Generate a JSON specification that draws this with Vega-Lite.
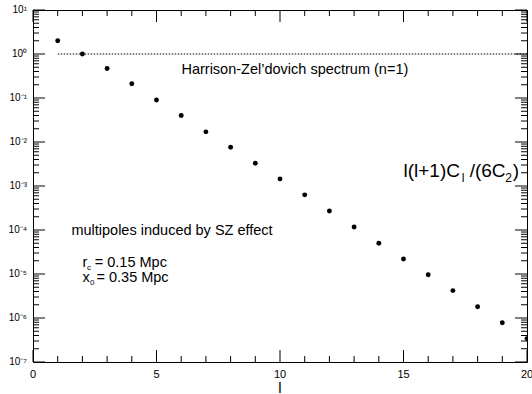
{
  "$schema": "https://vega.github.io/schema/vega-lite/v6.json",
  "width": 494,
  "height": 352,
  "autosize": {"type": "none"},
  "padding": {"left": 33, "top": 10, "right": 5, "bottom": 32},
  "background": "white",
  "config": {
    "view": {"stroke": "black", "strokeWidth": 1},
    "font": "Liberation Sans"
  },
  "datasets": {
    "spec": [
      {"l": 1, "v": 2.0}, {"l": 2, "v": 1.0}, {"l": 3, "v": 0.47}, {"l": 4, "v": 0.21},
      {"l": 5, "v": 0.09}, {"l": 6, "v": 0.040}, {"l": 7, "v": 0.017}, {"l": 8, "v": 0.0076},
      {"l": 9, "v": 0.0033}, {"l": 10, "v": 0.00145}, {"l": 11, "v": 0.00063}, {"l": 12, "v": 0.00027},
      {"l": 13, "v": 0.000117}, {"l": 14, "v": 0.00005}, {"l": 15, "v": 0.000022}, {"l": 16, "v": 0.0000096},
      {"l": 17, "v": 0.0000042}, {"l": 18, "v": 0.0000018}, {"l": 19, "v": 0.00000078}, {"l": 20, "v": 0.00000034}
    ],
    "hz": [{"l": 1, "l2": 20, "v": 1}],
    "xticks": [{"l": 0}, {"l": 1}, {"l": 2}, {"l": 3}, {"l": 4}, {"l": 5}, {"l": 6}, {"l": 7}, {"l": 8}, {"l": 9}, {"l": 10}, {"l": 11}, {"l": 12}, {"l": 13}, {"l": 14}, {"l": 15}, {"l": 16}, {"l": 17}, {"l": 18}, {"l": 19}, {"l": 20}],
    "yticks": [
      {"v": 1e-7}, {"v": 2e-7}, {"v": 3e-7}, {"v": 4e-7}, {"v": 5e-7}, {"v": 6e-7}, {"v": 7e-7}, {"v": 8e-7}, {"v": 9e-7},
      {"v": 1e-6}, {"v": 2e-6}, {"v": 3e-6}, {"v": 4e-6}, {"v": 5e-6}, {"v": 6e-6}, {"v": 7e-6}, {"v": 8e-6}, {"v": 9e-6},
      {"v": 1e-5}, {"v": 2e-5}, {"v": 3e-5}, {"v": 4e-5}, {"v": 5e-5}, {"v": 6e-5}, {"v": 7e-5}, {"v": 8e-5}, {"v": 9e-5},
      {"v": 1e-4}, {"v": 2e-4}, {"v": 3e-4}, {"v": 4e-4}, {"v": 5e-4}, {"v": 6e-4}, {"v": 7e-4}, {"v": 8e-4}, {"v": 9e-4},
      {"v": 1e-3}, {"v": 2e-3}, {"v": 3e-3}, {"v": 4e-3}, {"v": 5e-3}, {"v": 6e-3}, {"v": 7e-3}, {"v": 8e-3}, {"v": 9e-3},
      {"v": 0.01}, {"v": 0.02}, {"v": 0.03}, {"v": 0.04}, {"v": 0.05}, {"v": 0.06}, {"v": 0.07}, {"v": 0.08}, {"v": 0.09},
      {"v": 0.1}, {"v": 0.2}, {"v": 0.3}, {"v": 0.4}, {"v": 0.5}, {"v": 0.6}, {"v": 0.7}, {"v": 0.8}, {"v": 0.9},
      {"v": 1}, {"v": 2}, {"v": 3}, {"v": 4}, {"v": 5}, {"v": 6}, {"v": 7}, {"v": 8}, {"v": 9}, {"v": 10}
    ],
    "xlabels": [{"l": 0, "t": "0"}, {"l": 5, "t": "5"}, {"l": 10, "t": "10"}, {"l": 15, "t": "15"}, {"l": 20, "t": "20"}],
    "xtitle": [{"l": 10, "t": "l"}],
    "ylabels": [
      {"v": 1e-7, "t": "10⁻⁷"}, {"v": 1e-6, "t": "10⁻⁶"}, {"v": 1e-5, "t": "10⁻⁵"}, {"v": 1e-4, "t": "10⁻⁴"},
      {"v": 1e-3, "t": "10⁻³"}, {"v": 0.01, "t": "10⁻²"}, {"v": 0.1, "t": "10⁻¹"}, {"v": 1, "t": "10⁰"}, {"v": 10, "t": "10¹"}
    ],
    "notes": [
      {"l": 6.01, "v": 0.346, "t": "Harrison-Zel’dovich spectrum (n=1)", "kind": "main"},
      {"l": 1.555, "v": 7.7e-5, "t": "multipoles induced by SZ effect", "kind": "main"},
      {"l": 2.0, "v": 1.47e-5, "t": "r", "kind": "main"},
      {"l": 2.19, "v": 1.47e-5, "t": "c", "kind": "sub"},
      {"l": 2.5, "v": 1.47e-5, "t": "= 0.15 Mpc", "kind": "main"},
      {"l": 2.0, "v": 6.7e-6, "t": "x", "kind": "main"},
      {"l": 2.31, "v": 6.7e-6, "t": "0", "kind": "sub"},
      {"l": 2.57, "v": 6.7e-6, "t": "= 0.35 Mpc", "kind": "main"},
      {"l": 15.0, "v": 1.6e-3, "t": "l(l+1)C", "kind": "big"},
      {"l": 17.36, "v": 1.6e-3, "t": "l", "kind": "bigsub"},
      {"l": 17.68, "v": 1.6e-3, "t": "/(6C", "kind": "big"},
      {"l": 19.12, "v": 1.6e-3, "t": "2", "kind": "bigsub"},
      {"l": 19.42, "v": 1.6e-3, "t": ")", "kind": "big"}
    ]
  },
  "layer": [
    {
      "data": {"name": "spec"},
      "mark": {"type": "point", "filled": true, "color": "black", "opacity": 1, "size": 24, "clip": true},
      "encoding": {
        "x": {"field": "l", "type": "quantitative", "scale": {"domain": [0, 20], "nice": false, "zero": false}, "axis": null},
        "y": {"field": "v", "type": "quantitative", "scale": {"type": "log", "domain": [1e-7, 10], "nice": false}, "axis": null}
      }
    },
    {
      "data": {"name": "hz"},
      "mark": {"type": "rule", "color": "black", "strokeWidth": 1, "strokeDash": [1.5, 1.5]},
      "encoding": {
        "x": {"field": "l", "type": "quantitative", "axis": null},
        "x2": {"field": "l2"},
        "y": {"field": "v", "type": "quantitative", "axis": null}
      }
    },
    {
      "data": {"name": "xticks"},
      "transform": [{"filter": "datum.l % 5 == 0"}],
      "mark": {"type": "tick", "orient": "vertical", "color": "black", "thickness": 1, "size": 12, "yOffset": -6, "opacity": 1},
      "encoding": {
        "x": {"field": "l", "type": "quantitative", "axis": null},
        "y": {"datum": 1e-7, "type": "quantitative", "axis": null}
      }
    },
    {
      "data": {"name": "xticks"},
      "transform": [{"filter": "datum.l % 5 != 0"}],
      "mark": {"type": "tick", "orient": "vertical", "color": "black", "thickness": 1, "size": 6, "yOffset": -3, "opacity": 1},
      "encoding": {
        "x": {"field": "l", "type": "quantitative", "axis": null},
        "y": {"datum": 1e-7, "type": "quantitative", "axis": null}
      }
    },
    {
      "data": {"name": "xticks"},
      "transform": [{"filter": "datum.l % 5 == 0"}],
      "mark": {"type": "tick", "orient": "vertical", "color": "black", "thickness": 1, "size": 12, "yOffset": 6, "opacity": 1},
      "encoding": {
        "x": {"field": "l", "type": "quantitative", "axis": null},
        "y": {"datum": 10, "type": "quantitative", "axis": null}
      }
    },
    {
      "data": {"name": "xticks"},
      "transform": [{"filter": "datum.l % 5 != 0"}],
      "mark": {"type": "tick", "orient": "vertical", "color": "black", "thickness": 1, "size": 6, "yOffset": 3, "opacity": 1},
      "encoding": {
        "x": {"field": "l", "type": "quantitative", "axis": null},
        "y": {"datum": 10, "type": "quantitative", "axis": null}
      }
    },
    {
      "data": {"name": "yticks"},
      "transform": [{"filter": "abs(log(datum.v)/LN10 - round(log(datum.v)/LN10)) < 1e-6"}],
      "mark": {"type": "tick", "orient": "horizontal", "color": "black", "thickness": 1, "size": 12, "xOffset": 6, "opacity": 1},
      "encoding": {
        "y": {"field": "v", "type": "quantitative", "axis": null},
        "x": {"datum": 0, "type": "quantitative", "axis": null}
      }
    },
    {
      "data": {"name": "yticks"},
      "transform": [{"filter": "abs(log(datum.v)/LN10 - round(log(datum.v)/LN10)) >= 1e-6"}],
      "mark": {"type": "tick", "orient": "horizontal", "color": "black", "thickness": 1, "size": 6, "xOffset": 3, "opacity": 1},
      "encoding": {
        "y": {"field": "v", "type": "quantitative", "axis": null},
        "x": {"datum": 0, "type": "quantitative", "axis": null}
      }
    },
    {
      "data": {"name": "yticks"},
      "transform": [{"filter": "abs(log(datum.v)/LN10 - round(log(datum.v)/LN10)) < 1e-6"}],
      "mark": {"type": "tick", "orient": "horizontal", "color": "black", "thickness": 1, "size": 12, "xOffset": -6, "opacity": 1},
      "encoding": {
        "y": {"field": "v", "type": "quantitative", "axis": null},
        "x": {"datum": 20, "type": "quantitative", "axis": null}
      }
    },
    {
      "data": {"name": "yticks"},
      "transform": [{"filter": "abs(log(datum.v)/LN10 - round(log(datum.v)/LN10)) >= 1e-6"}],
      "mark": {"type": "tick", "orient": "horizontal", "color": "black", "thickness": 1, "size": 6, "xOffset": -3, "opacity": 1},
      "encoding": {
        "y": {"field": "v", "type": "quantitative", "axis": null},
        "x": {"datum": 20, "type": "quantitative", "axis": null}
      }
    },
    {
      "data": {"name": "xlabels"},
      "mark": {"type": "text", "align": "center", "baseline": "top", "dy": 7, "fontSize": 11, "color": "black", "font": "Liberation Sans"},
      "encoding": {
        "x": {"field": "l", "type": "quantitative", "axis": null},
        "y": {"datum": 1e-7, "type": "quantitative", "axis": null},
        "text": {"field": "t"}
      }
    },
    {
      "data": {"name": "xtitle"},
      "mark": {"type": "text", "align": "center", "baseline": "top", "dy": 19, "fontSize": 15, "color": "black", "font": "Liberation Sans"},
      "encoding": {
        "x": {"field": "l", "type": "quantitative", "axis": null},
        "y": {"datum": 1e-7, "type": "quantitative", "axis": null},
        "text": {"field": "t"}
      }
    },
    {
      "data": {"name": "ylabels"},
      "mark": {"type": "text", "align": "right", "baseline": "middle", "dx": -6, "fontSize": 10, "color": "black", "font": "Liberation Sans"},
      "encoding": {
        "y": {"field": "v", "type": "quantitative", "axis": null},
        "x": {"datum": 0, "type": "quantitative", "axis": null},
        "text": {"field": "t"}
      }
    },
    {
      "data": {"name": "notes"},
      "transform": [{"filter": "datum.kind == 'main'"}],
      "mark": {"type": "text", "align": "left", "baseline": "alphabetic", "fontSize": 14.5, "color": "black", "font": "Liberation Sans"},
      "encoding": {
        "x": {"field": "l", "type": "quantitative", "axis": null},
        "y": {"field": "v", "type": "quantitative", "axis": null},
        "text": {"field": "t"}
      }
    },
    {
      "data": {"name": "notes"},
      "transform": [{"filter": "datum.kind == 'sub'"}],
      "mark": {"type": "text", "align": "left", "baseline": "alphabetic", "fontSize": 8, "dy": 3, "color": "black", "font": "Liberation Sans"},
      "encoding": {
        "x": {"field": "l", "type": "quantitative", "axis": null},
        "y": {"field": "v", "type": "quantitative", "axis": null},
        "text": {"field": "t"}
      }
    },
    {
      "data": {"name": "notes"},
      "transform": [{"filter": "datum.kind == 'big'"}],
      "mark": {"type": "text", "align": "left", "baseline": "alphabetic", "fontSize": 19, "color": "black", "font": "Liberation Sans"},
      "encoding": {
        "x": {"field": "l", "type": "quantitative", "axis": null},
        "y": {"field": "v", "type": "quantitative", "axis": null},
        "text": {"field": "t"}
      }
    },
    {
      "data": {"name": "notes"},
      "transform": [{"filter": "datum.kind == 'bigsub'"}],
      "mark": {"type": "text", "align": "left", "baseline": "alphabetic", "fontSize": 12, "dy": 5, "color": "black", "font": "Liberation Sans"},
      "encoding": {
        "x": {"field": "l", "type": "quantitative", "axis": null},
        "y": {"field": "v", "type": "quantitative", "axis": null},
        "text": {"field": "t"}
      }
    }
  ]
}
